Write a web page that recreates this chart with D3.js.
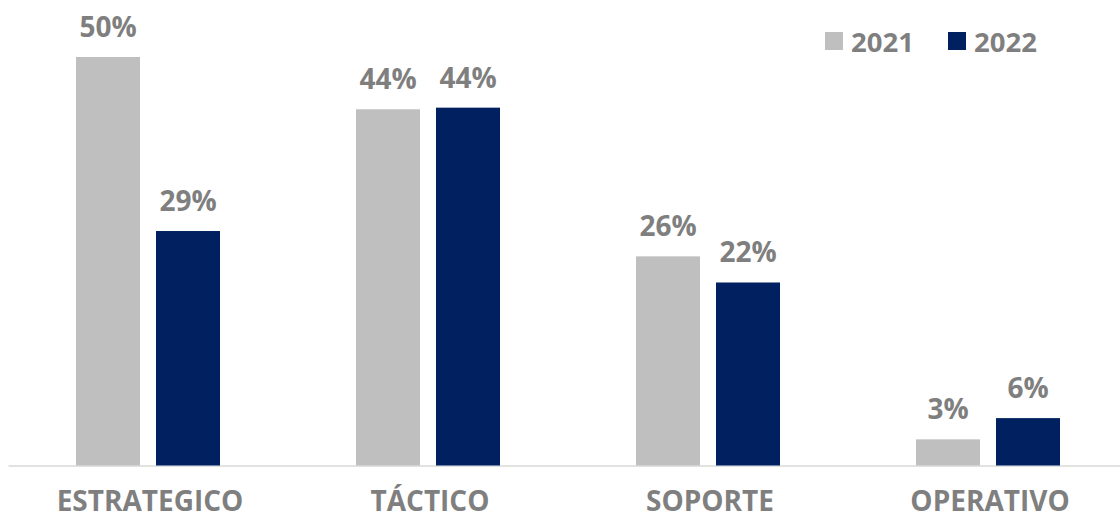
<!DOCTYPE html>
<html>
<head>
<meta charset="utf-8">
<script src="https://cdn.jsdelivr.net/npm/d3@7"></script>
<style>
  body { margin: 0; background: #fff; }
  svg text { font-family: "Open Sans", "Noto Sans", sans-serif; font-weight: 700; fill: #7f7f7f; }
  .axis path { stroke: #d9d9d9; stroke-width: 1.5; }
</style>
</head>
<body>
<div class="chart"></div>
<script>
const WIDTH = 1120,
    HEIGHT = 520;

// data
const categories = ["ESTRATEGICO", "TÁCTICO", "SOPORTE", "OPERATIVO"];
const years = ["2021", "2022"];
const values2021 = [0.50, 0.436, 0.256, 0.032];
const values2022 = [0.287, 0.438, 0.224, 0.058];
const colors = ["#bfbfbf", "#002060"];

const series = [values2021, values2022];

const svg = d3.select(".chart")
    .append("svg")
    .attr("width", WIDTH)
    .attr("height", HEIGHT);

const x0 = d3.scaleBand().domain(categories).range([8, 1128]);
const x1 = d3.scaleBand().domain(years).range([68, 212]).paddingInner(0.2);
const y = d3.scaleLinear().domain([0, 0.5]).range([465.5, 57]);
const color = d3.scaleOrdinal().domain(years).range(colors);
const fmt = d3.format(".0%");

// x axis: just the base line and category names
const axis = svg.append("g")
    .attr("class", "axis")
    .attr("transform", `translate(0, ${y(0)})`)
    .call(d3.axisBottom(x0).tickSize(0).tickSizeOuter(0));
axis.selectAll(".tick text")
    .attr("x", 2)
    .attr("y", 45.5)
    .attr("dy", 0)
    .style("font-size", "28px")
    .style("fill", "#7f7f7f");

// bars + labels
const groups = svg.selectAll(".group")
    .data(categories)
    .join("g")
    .attr("class", "group")
    .attr("transform", d => `translate(${x0(d)}, 0)`);

groups.selectAll("rect")
    .data((d, i) => years.map((yr, j) => ({ yr, v: series[j][i] })))
    .join("rect")
    .attr("x", d => x1(d.yr))
    .attr("y", d => y(d.v))
    .attr("width", x1.bandwidth())
    .attr("height", d => y(0) - y(d.v))
    .attr("fill", d => color(d.yr));

groups.selectAll(".value")
    .data((d, i) => years.map((yr, j) => ({ yr, v: series[j][i] })))
    .join("text")
    .attr("class", "value")
    .attr("x", d => x1(d.yr) + x1.bandwidth() / 2)
    .attr("y", d => y(d.v) - 20)
    .attr("text-anchor", "middle")
    .style("font-size", "28px")
    .text(d => fmt(d.v));

// legend
const legend = svg.append("g")
    .attr("transform", "translate(825, 32)");
const item = legend.selectAll("g")
    .data(years)
    .join("g")
    .attr("transform", (d, i) => `translate(${i * 123}, 0)`);
item.append("rect")
    .attr("width", 18)
    .attr("height", 18)
    .attr("fill", d => color(d));
item.append("text")
    .attr("x", 26)
    .attr("y", 19.5)
    .style("font-size", "27.5px")
    .text(d => d);
</script>
</body>
</html>
